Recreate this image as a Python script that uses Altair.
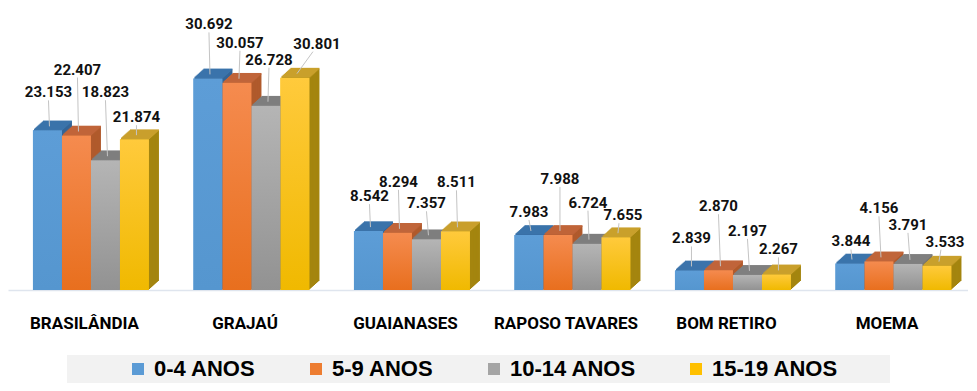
import json
import altair as alt
import pandas as pd

# ---------------- data ----------------
categories = ["BRASILÂNDIA", "GRAJAÚ", "GUAIANASES", "RAPOSO TAVARES", "BOM RETIRO", "MOEMA"]
series = ["0-4 ANOS", "5-9 ANOS", "10-14 ANOS", "15-19 ANOS"]
v_0_4 = [23153, 30692, 8542, 7983, 2839, 3844]
v_5_9 = [22407, 30057, 8294, 7988, 2870, 4156]
v_10_14 = [18823, 26728, 7357, 6724, 2197, 3791]
v_15_19 = [21874, 30801, 8511, 7655, 2267, 3533]
values = [v_0_4, v_5_9, v_10_14, v_15_19]

# ---------------- layout / style (not data) ----------------
# label lift above bar top (px) and horizontal nudge (px), per series per category
label_lift = [
    [38, 54, 35, 23, 32, 22],
    [66, 40, 51, 56, 64, 53],
    [68, 46, 36, 41, 44, 39],
    [22, 34, 49, 22, 25, 24],
]
label_shift = [
    [1, 1, 1, 0, 2, 1],
    [1, 3, 1, 2, 0, 0],
    [0, 3, 0, 1, 0, 0],
    [2, 22, 1, 7, 2, 8],
]

front_top = ["#5d9dd7", "#f58b4f", "#b5b5b5", "#ffca3c"]
front_bot = ["#5596cf", "#e86f1e", "#929292", "#f0b900"]
legend_cols = ["#5b9bd5", "#ed7d31", "#a5a5a5", "#ffc000"]
top_cols = ["#3b74ab", "#c0653a", "#7f7f7f", "#c9a02c"]
side_cols = ["#346597", "#b05a2c", "#707070", "#a4850f"]

PLOT_W, PLOT_H = 960, 282
Y_MAX = 40900
STEP_PX = 160.5
X_MIN = -0.4735
X_MAX = X_MIN + PLOT_W / STEP_PX
BAR_W = 29 / STEP_PX
GROUP_START = -0.318
DEPTH_X, DEPTH_Y, NSTEP = 10, 9, 9
U_PER_PX = Y_MAX / PLOT_H

FONT_LBL = "Roboto, Liberation Sans, sans-serif"
FONT_LEG = "Liberation Sans, Arial, sans-serif"

rows, faces = [], []
for j, s in enumerate(series):
    for i, c in enumerate(categories):
        v = values[j][i]
        x0 = i + GROUP_START + j * BAR_W
        x1 = x0 + BAR_W
        xc = (x0 + x1) / 2
        lx = xc + label_shift[j][i] / STEP_PX
        lift = label_lift[j][i]
        rows.append(dict(
            category=c, series=s, value=v, zero=0, x0=x0, x1=x1,
            lx=lx, ly=v + lift * U_PER_PX,
            rx_bar=xc + 2 / STEP_PX, ry_bar=v + 4 * U_PER_PX,
            rx_lab=lx - (4 if label_shift[j][i] > 5 else 0) / STEP_PX,
            ry_lab=v + (lift - 8) * U_PER_PX,
            label=f"{v:,}".replace(",", "."),
        ))
        for k in range(1, NSTEP + 1):
            ox = DEPTH_X * k / NSTEP / STEP_PX
            oy = DEPTH_Y * k / NSTEP * U_PER_PX
            faces.append(dict(series=s, sidx=j, k=k, fx0=x0 + ox, fx1=x1 + ox,
                              ftop=v + oy, fbot=oy))
df = pd.DataFrame(rows)
faces_df = pd.DataFrame(faces).sort_values(["sidx", "k"], ascending=[True, False])

x_scale = alt.Scale(domain=[X_MIN, X_MAX], nice=False, zero=False)
y_scale = alt.Scale(domain=[0, Y_MAX], nice=False)
x_axis = alt.Axis(
    values=list(range(len(categories))),
    labelExpr=json.dumps(categories, ensure_ascii=False) + "[datum.value]",
    ticks=False, grid=False, title=None,
    domainColor="#dfe5ee", domainWidth=1.5,
    labelFont=FONT_LBL, labelFontSize=17, labelFontWeight="bold",
    labelColor="#000000", labelPadding=25,
)


def X(f):
    return alt.X(f"{f}:Q", scale=x_scale, axis=x_axis)


def Y(f):
    return alt.Y(f"{f}:Q", scale=y_scale, axis=None)


base = alt.Chart(df)
fbase = alt.Chart(faces_df)

# solid front faces (carry the legend; covered by the gradient overlay)
legend_layer = base.mark_bar().encode(
    x=X("x0"), x2="x1", y=Y("value"), y2="zero:Q",
    color=alt.Color(
        "series:N",
        scale=alt.Scale(domain=series, range=legend_cols),
        legend=alt.Legend(
            orient="none", legendX=59, legendY=347, direction="horizontal",
            title="\u00a0", titleOrient="left", titlePadding=57, titleFontSize=2,
            symbolType="square", symbolSize=144, symbolStrokeWidth=0,
            labelFont=FONT_LEG, labelFontSize=22, labelFontWeight="bold",
            labelColor="#000000", labelOffset=5, labelLimit=400,
            columnPadding=49, padding=3, fillColor="#f2f2f2", gridAlign="each",
            labelExpr="datum.label == '15-19 ANOS' ? datum.label + '"
            + "\u00a0" * 8 + "\u200b' : datum.label",
        ),
    ),
)

# side / back faces
side_layer = fbase.mark_bar().encode(
    x=X("fx0"), x2="fx1", y=Y("ftop"), y2="fbot",
    fill=alt.Fill("series:N", scale=alt.Scale(domain=series, range=side_cols), legend=None),
)

# top faces
top_layer = fbase.mark_rule(strokeWidth=1.6).encode(
    x=X("fx0"), x2="fx1", y=Y("ftop"),
    stroke=alt.Stroke("series:N", scale=alt.Scale(domain=series, range=top_cols), legend=None),
)

layers = [legend_layer, side_layer, top_layer]

# gradient front faces
for j, s in enumerate(series):
    grad = alt.Gradient(
        gradient="linear", x1=0, y1=0, x2=0, y2=1,
        stops=[alt.GradientStop(color=front_top[j], offset=0),
               alt.GradientStop(color=front_bot[j], offset=1)],
    )
    layers.append(
        base.transform_filter(alt.datum.series == s).mark_bar(fill=grad).encode(
            x=X("x0"), x2="x1", y=Y("value"), y2="zero:Q",
        )
    )

# leader lines
layers.append(
    base.mark_rule(color="#c4c4c4", strokeWidth=1).encode(
        x=X("rx_bar"), x2="rx_lab", y=Y("ry_bar"), y2="ry_lab",
    )
)

# value labels
layers.append(
    base.mark_text(font=FONT_LBL, fontSize=15, fontWeight="bold", color="#111111",
                   baseline="middle", align="center").encode(
        x=X("lx"), y=Y("ly"), text="label:N",
    )
)

chart = alt.layer(*layers).properties(
    width=PLOT_W, height=PLOT_H, padding=0, background="#ffffff",
).configure_view(stroke=None)

chart.save("out.html", embed_options={"renderer": "svg", "actions": False})
